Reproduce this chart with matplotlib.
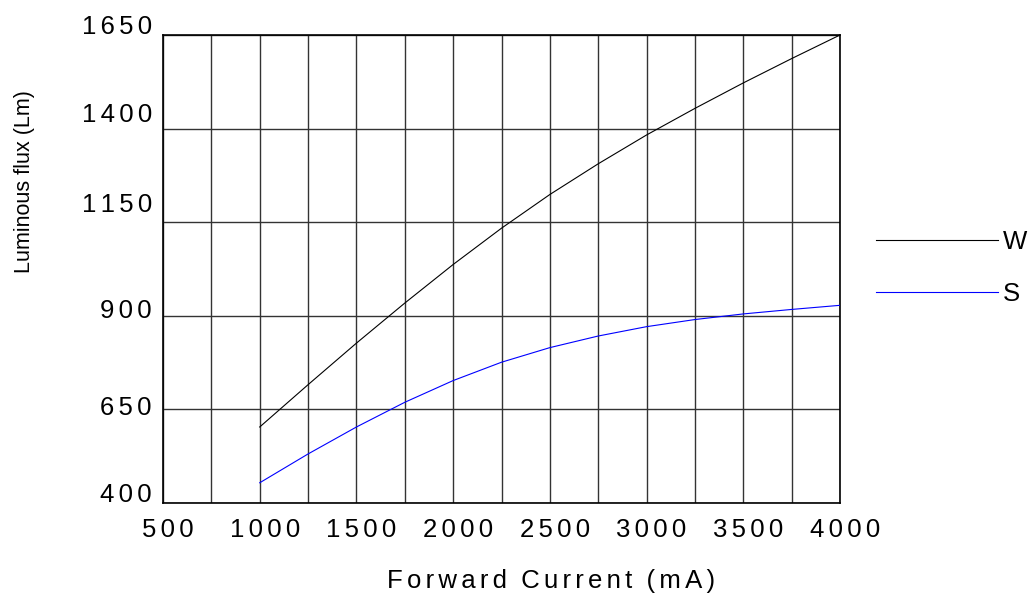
import matplotlib
matplotlib.use("Agg")
import matplotlib.pyplot as plt
from matplotlib.transforms import ScaledTranslation

plt.rcParams['font.family'] = ['Liberation Sans', 'DejaVu Sans']

current = [1000, 1250, 1500, 1750, 2000, 2250, 2500, 2750, 3000, 3250, 3500, 3750, 4000]
flux_w = [603, 716, 827, 934, 1037, 1134, 1224, 1306, 1383, 1454, 1522, 1587, 1650]
flux_s = [454, 531, 603, 669, 727, 776, 815, 846, 871, 890, 905, 917, 928]

x_ticks = [500, 1000, 1500, 2000, 2500, 3000, 3500, 4000]
y_ticks = [400, 650, 900, 1150, 1400, 1650]
x_grid = list(range(500, 4001, 250))

# per-label vertical nudges (pixels, up positive) to mimic the original layout
y_label_nudge = [10, 4, 7, 20, 16, 10]

SP = "\u2006"

def spaced(s):
    return SP.join(str(s))

fig = plt.figure(figsize=(10.33, 6.01), dpi=100)
ax = fig.add_axes([163/1033, 1-503/601, (840-163)/1033, (503-35)/601])

ax.set_xlim(500, 4000)
ax.set_ylim(400, 1650)

for xv in x_grid:
    ax.axvline(xv, color='#333333', lw=1.0, zorder=1)
for yv in y_ticks:
    ax.axhline(yv, color='#333333', lw=1.0, zorder=1)

ax.plot(current, flux_w, color='black', lw=0.8, label='W', zorder=3)
ax.plot(current, flux_s, color='#0000ff', lw=0.8, label='S', zorder=3)

fs = 18.5
ax.set_xticks(x_ticks)
ax.set_xticklabels([spaced(v) for v in x_ticks], fontsize=fs)
ax.set_yticks(y_ticks)
ax.set_yticklabels([spaced(v) for v in y_ticks], fontsize=fs)
ax.tick_params(axis='both', length=0)
ax.tick_params(axis='x', pad=10.5)
ax.tick_params(axis='y', pad=8)

for lab in ax.get_xticklabels():
    lab.set_transform(lab.get_transform() + ScaledTranslation(5/100, 0, fig.dpi_scale_trans))
for lab, dy in zip(ax.get_yticklabels(), y_label_nudge):
    lab.set_transform(lab.get_transform() + ScaledTranslation(0, dy/100, fig.dpi_scale_trans))

for sp in ax.spines.values():
    sp.set_linewidth(1.2)
    sp.set_color('black')

xlabel = "  ".join(SP.join(w) for w in "Forward Current (mA)".split(" "))
fig.text(551/1033, 1-581/601, xlabel, ha='center', va='center', fontsize=fs)
fig.text(25/1033, 1-182/601, "Luminous flux (Lm)", rotation=90,
         ha='center', va='center', fontsize=15.5)

leg = ax.legend(loc='center left', bbox_to_anchor=(876/1033, 1-268/601),
                bbox_transform=fig.transFigure, frameon=False, fontsize=fs,
                handlelength=4.75, handletextpad=0.2, labelspacing=1.08,
                borderpad=0, borderaxespad=0)

fig.savefig("out.png", dpi=100, facecolor='white')
